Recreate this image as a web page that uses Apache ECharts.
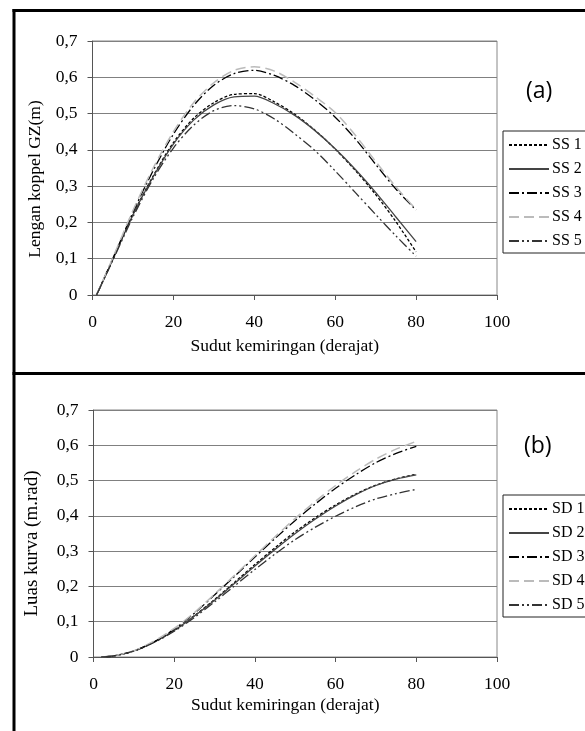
<!DOCTYPE html>
<html>
<head>
<meta charset="utf-8">
<script src="https://cdn.jsdelivr.net/npm/echarts@6/dist/echarts.min.js"></script>
<style>
  html, body { margin: 0; padding: 0; background: #fff; }
  #chart { width: 585px; height: 731px; }
</style>
</head>
<body>
<div id="chart"></div>
<script>
// panel (a): GZ righting arm vs heel angle
const anglesA = [1, 5, 10, 15, 20, 25, 30, 35, 40, 45, 50, 55, 60, 65, 70, 75, 80]
const ss1 = [0, 0.097, 0.222, 0.328, 0.42, 0.487, 0.53, 0.553, 0.555, 0.532, 0.498, 0.454, 0.402, 0.343, 0.277, 0.202, 0.119]
const ss2 = [0, 0.097, 0.221, 0.326, 0.416, 0.482, 0.524, 0.546, 0.548, 0.527, 0.495, 0.453, 0.403, 0.346, 0.283, 0.215, 0.147]
const ss3 = [0, 0.1, 0.228, 0.343, 0.443, 0.522, 0.578, 0.61, 0.619, 0.605, 0.577, 0.538, 0.49, 0.43, 0.36, 0.292, 0.234]
const ss4 = [0, 0.102, 0.233, 0.35, 0.45, 0.53, 0.585, 0.619, 0.629, 0.617, 0.586, 0.547, 0.503, 0.44, 0.368, 0.298, 0.236]
const ss5 = [0, 0.095, 0.215, 0.32, 0.405, 0.468, 0.508, 0.522, 0.513, 0.485, 0.444, 0.398, 0.342, 0.282, 0.222, 0.163, 0.107]

// panel (b): area under the curve
const anglesB = [2, 5, 10, 15, 20, 25, 30, 35, 40, 45, 50, 55, 60, 65, 70, 75, 80]
const sd1 = [0, 0.003, 0.017, 0.042, 0.075, 0.117, 0.163, 0.212, 0.262, 0.31, 0.355, 0.395, 0.431, 0.462, 0.487, 0.505, 0.518]
const sd2 = [0, 0.003, 0.017, 0.042, 0.075, 0.116, 0.161, 0.209, 0.258, 0.305, 0.35, 0.391, 0.428, 0.46, 0.486, 0.504, 0.516]
const sd3 = [0, 0.003, 0.017, 0.043, 0.079, 0.124, 0.176, 0.229, 0.283, 0.336, 0.387, 0.434, 0.478, 0.517, 0.551, 0.577, 0.597]
const sd4 = [0, 0.0035, 0.018, 0.045, 0.081, 0.126, 0.178, 0.232, 0.287, 0.341, 0.393, 0.441, 0.486, 0.526, 0.561, 0.589, 0.611]
const sd5 = [0, 0.003, 0.017, 0.041, 0.073, 0.112, 0.156, 0.202, 0.248, 0.292, 0.333, 0.368, 0.399, 0.426, 0.448, 0.463, 0.475]

const namesA = ['SS 1', 'SS 2', 'SS 3', 'SS 4', 'SS 5']
const namesB = ['SD 1', 'SD 2', 'SD 3', 'SD 4', 'SD 5']
const yTickLabels = ['0', '0,1', '0,2', '0,3', '0,4', '0,5', '0,6', '0,7']
const xTickLabels = ['0', '20', '40', '60', '80', '100']

const serif = 'Liberation Serif'
const fs = 17.5

// line looks, same order for both panels
const looks = [
  { color: '#000', width: 1.3, type: [3, 2] },
  { color: '#444', width: 1.3, type: 'solid' },
  { color: '#000', width: 1.3, type: [10, 3, 2, 3] },
  { color: '#bbb', width: 1.5, type: [10, 5] },
  { color: '#333', width: 1.3, type: [10, 3, 2, 3, 2, 3] }
]

function pairs(xs, ys) {
  return xs.map((x, i) => [x, ys[i]])
}

function mkSeries(name, xs, ys, idx, look) {
  return {
    name: name,
    type: 'line',
    xAxisIndex: idx,
    yAxisIndex: idx,
    data: pairs(xs, ys),
    smooth: 0.3,
    symbol: 'none',
    color: look.color,
    lineStyle: { color: look.color, width: look.width, type: look.type },
    emphasis: { disabled: true },
    z: 3
  }
}

function xAxisCfg(idx, gap) {
  return {
    type: 'value',
    gridIndex: idx,
    min: 0,
    max: 100,
    interval: 20,
    name: 'Sudut kemiringan (derajat)',
    nameLocation: 'middle',
    nameGap: gap,
    nameTextStyle: { fontFamily: serif, fontSize: fs, color: '#000', padding: [0, 20, 0, 0] },
    axisLine: { onZero: false, lineStyle: { color: '#555', width: 1 } },
    axisTick: { show: true, length: 5, lineStyle: { color: '#555' } },
    axisLabel: {
      margin: 18,
      fontFamily: serif,
      fontSize: fs,
      color: '#000',
      formatter: v => xTickLabels[Math.round(v / 20)]
    },
    splitLine: { show: false }
  }
}

function yAxisCfg(idx, name, gap, shift, nameSize) {
  return {
    type: 'value',
    gridIndex: idx,
    min: 0,
    max: 0.7,
    interval: 0.1,
    name: name,
    nameLocation: 'middle',
    nameGap: gap,
    nameRotate: 90,
    nameTextStyle: { fontFamily: serif, fontSize: nameSize, color: '#000', padding: [0, shift, 0, 0] },
    axisLine: { show: true, lineStyle: { color: '#555', width: 1 } },
    axisTick: { show: true, length: 5, lineStyle: { color: '#555' } },
    axisLabel: {
      margin: 15,
      fontFamily: serif,
      fontSize: fs,
      color: '#000',
      formatter: v => yTickLabels[Math.round(v * 10)]
    },
    splitLine: { show: true, lineStyle: { color: '#808080', width: 1 } }
  }
}

function legendCfg(names, top) {
  return {
    data: names,
    orient: 'vertical',
    left: 503,
    top: top,
    itemWidth: 40,
    itemHeight: 14,
    itemGap: 8,
    padding: [6, 30, 4, 5],
    backgroundColor: '#fff',
    borderColor: '#222',
    borderWidth: 1,
    borderRadius: 0,
    itemStyle: { opacity: 0 },
    textStyle: { fontFamily: serif, fontSize: 16, color: '#000', padding: [0, 0, 0, -2] },
    selectedMode: false
  }
}

const chart = echarts.init(document.getElementById('chart'))

const series = []
const setA = [ss1, ss2, ss3, ss4, ss5]
const setB = [sd1, sd2, sd3, sd4, sd5]
setA.forEach((ys, i) => series.push(mkSeries(namesA[i], anglesA, ys, 0, looks[i])))
setB.forEach((ys, i) => series.push(mkSeries(namesB[i], anglesB, ys, 1, looks[i])))

chart.setOption({
  animation: false,
  backgroundColor: '#fff',
  grid: [
    { left: 92.5, right: 88, top: 41, bottom: 436, show: true, borderColor: '#888', borderWidth: 1 },
    { left: 93.5, right: 88, top: 410, bottom: 74, show: true, borderColor: '#888', borderWidth: 1 }
  ],
  xAxis: [xAxisCfg(0, 42), xAxisCfg(1, 39)],
  yAxis: [
    yAxisCfg(0, 'Lengan koppel GZ(m)', 45, 22, fs),
    yAxisCfg(1, 'Luas kurva (m.rad)', 52, 20, 19)
  ],
  legend: [legendCfg(namesA, 131), legendCfg(namesB, 495)],
  graphic: [
    { type: 'rect', shape: { x: 12.5, y: 9, width: 3, height: 731 }, style: { fill: '#000' } },
    { type: 'rect', shape: { x: 12.5, y: 9, width: 580, height: 3 }, style: { fill: '#000' } },
    { type: 'rect', shape: { x: 12.5, y: 372, width: 580, height: 3 }, style: { fill: '#000' } },
    { type: 'text', left: 526, top: 80, style: { text: '(a)', font: '23px "Open Sans"', fill: '#000' } },
    { type: 'text', left: 524, top: 435, style: { text: '(b)', font: '23px "Open Sans"', fill: '#000' } }
  ],
  series: series
})
</script>
</body>
</html>
